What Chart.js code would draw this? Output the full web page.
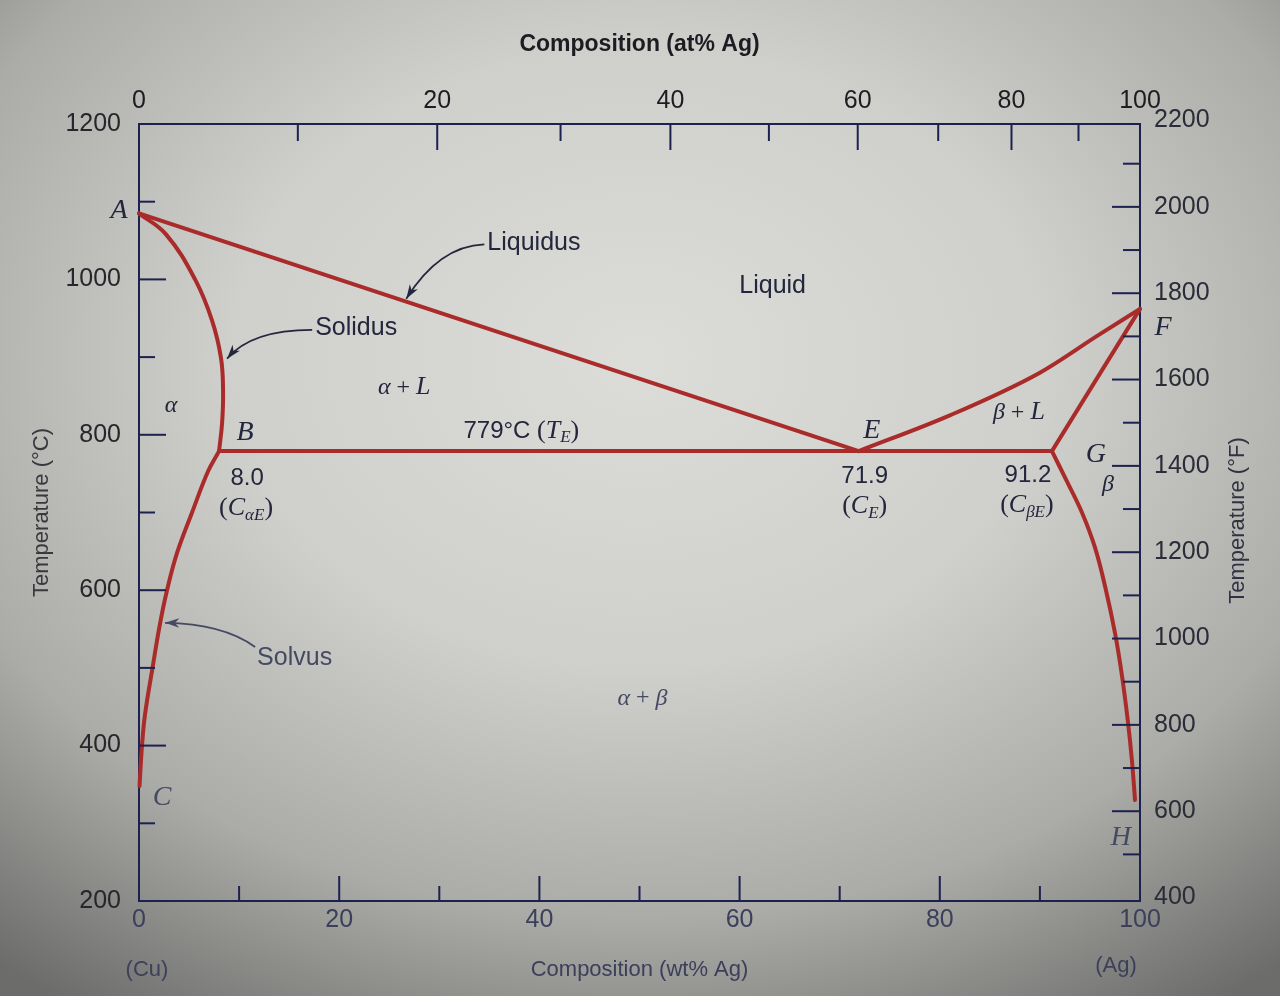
<!DOCTYPE html>
<html>
<head>
<meta charset="utf-8">
<title>Cu-Ag phase diagram</title>
<script src="https://cdn.jsdelivr.net/npm/chart.js@4.4.1/dist/chart.umd.min.js"></script>
<style>
    html, body { margin: 0; padding: 0; }
    body {
        width: 1280px;
        height: 996px;
        overflow: hidden;
        background: radial-gradient(ellipse 80% 78% at 50% 36%, #dcdcd8 0%, #cfcfcb 40%, #ababa7 72%, #6c6c6b 100%);
    }
    #wrap { position: relative; width: 1280px; height: 996px; }
</style>
</head>
<body>
<div id="wrap"><canvas id="phaseChart"></canvas></div>
<script>
// phase boundaries: [wt% Ag, temperature °C]
const liquidusCu = [[0, 1085], [71.9, 779]]
const solidusCu = [[0, 1085], [2.7, 1058], [5.6, 1000], [7.3, 947], [8.2, 898], [8.4, 855], [8.3, 815], [8.0, 779]]
const solvusCu = [[8.0, 779], [6.9, 753], [5.3, 700], [3.8, 648], [2.8, 600], [2.1, 557], [1.35, 500], [0.6, 440], [0.3, 400], [0.05, 348]]
const eutectic = [[8.0, 779], [71.9, 779], [91.2, 779]]
const liquidusAg = [[71.9, 779], [81, 825], [90, 880], [95.8, 928], [100, 962]]
const solidusAg = [[91.2, 779], [100, 962]]
const solvusAg = [[91.2, 779], [92.7, 740], [94.2, 700], [95.5, 655], [96.6, 600], [97.5, 545], [98.2, 490], [98.8, 430], [99.2, 380], [99.5, 330]]

// axis ticks
const wtTicks = [0, 10, 20, 30, 40, 50, 60, 70, 80, 90, 100]
const atTicks = [0, 10, 20, 30, 40, 50, 60, 70, 80, 90, 100]
const celsiusTicks = [200, 300, 400, 500, 600, 700, 800, 900, 1000, 1100, 1200]
const fahrenheitTicks = [400, 500, 600, 700, 800, 900, 1000, 1100, 1200, 1300, 1400, 1500, 1600, 1700, 1800, 1900, 2000, 2100, 2200]

const frameColor = '#1d2150'
const lineColor = '#a92c2b'
const ink = '#23263c'
const inkSoft = '#454a62'

// at% -> wt% (Cu 63.55, Ag 107.87)
const atToWt = (a) => 100 * a * 107.87 / (a * 107.87 + (100 - a) * 63.55)
const fToC = (f) => (f - 32) * 5 / 9

const sans = (size, weight) => `${weight || 'normal'} ${size}px "Liberation Sans", Arial, sans-serif`
const serif = (size) => `${size}px "Liberation Serif", "Times New Roman", serif`
const serifIt = (size) => `italic ${size}px "Liberation Serif", "Times New Roman", serif`

const boundary = (pairs, tension, mode) => ({
    data: pairs.map(p => ({x: p[0], y: p[1]})),
    showLine: true,
    borderColor: lineColor,
    borderWidth: 4,
    pointRadius: 0,
    tension: tension,
    cubicInterpolationMode: mode || 'default',
    clip: false,
    borderJoinStyle: 'round',
    borderCapStyle: 'round'
})

// labels inside the diagram, placed at [wt%, °C]
const it = (t, s) => ({text: t, font: serifIt(s || 28)})
const sub = (t) => ({text: t, font: serifIt(17), dy: 7})
const labels = [
    {at: [-2.0, 1088], runs: [it('A')]},
    {at: [10.6, 803], runs: [it('B')]},
    {at: [2.3, 333], runs: [it('C')], color: inkSoft},
    {at: [73.2, 805], runs: [it('E')]},
    {at: [102.3, 938], runs: [it('F')]},
    {at: [95.6, 775], runs: [it('G')]},
    {at: [98.1, 282], runs: [it('H')], color: inkSoft},
    {at: [3.2, 838], runs: [it('α', 24)]},
    {at: [96.8, 736], runs: [it('β', 24)]},
    {at: [26.5, 861], runs: [it('α', 24), {text: ' + ', font: serif(24)}, it('L', 26)]},
    {at: [87.9, 829], runs: [it('β', 24), {text: ' + ', font: serif(24)}, it('L', 26)]},
    {at: [50.3, 461], runs: [it('α', 24), {text: ' + ', font: serif(24)}, it('β', 24)], color: inkSoft},
    {at: [63.3, 992], runs: [{text: 'Liquid', font: sans(25)}]},
    {at: [38.2, 805], runs: [{text: '779°C ', font: sans(24)}, {text: '(', font: serif(26)}, it('T', 26), sub('E'), {text: ')', font: serif(26)}]},
    {at: [10.8, 744], runs: [{text: '8.0', font: sans(24)}]},
    {at: [10.7, 705], runs: [{text: '(', font: serif(26)}, it('C', 26), sub('α'), sub('E'), {text: ')', font: serif(26)}]},
    {at: [72.5, 746], runs: [{text: '71.9', font: sans(24)}]},
    {at: [72.5, 708], runs: [{text: '(', font: serif(26)}, it('C', 26), sub('E'), {text: ')', font: serif(26)}]},
    {at: [88.8, 748], runs: [{text: '91.2', font: sans(24)}]},
    {at: [88.7, 709], runs: [{text: '(', font: serif(26)}, it('C', 26), sub('β'), sub('E'), {text: ')', font: serif(26)}]}
]

// callouts: text left edge, arrow start, bend, tip
const callouts = [
    {text: 'Liquidus', at: [34.8, 1047], from: [34.5, 1045], bend: [30.0, 1043], tip: [26.7, 975]},
    {text: 'Solidus', at: [17.6, 937], from: [17.3, 935], bend: [11.2, 935], tip: [8.8, 898]},
    {text: 'Solvus', at: [11.8, 512], from: [11.6, 527], bend: [8.4, 557], tip: [2.6, 558], color: inkSoft}
]

const drawRuns = (ctx, cx, cy, runs) => {
    let w = 0
    runs.forEach(r => { ctx.font = r.font; w += ctx.measureText(r.text).width })
    let x = cx - w / 2
    runs.forEach(r => {
        ctx.font = r.font
        ctx.fillText(r.text, x, cy + (r.dy || 0))
        x += ctx.measureText(r.text).width
    })
}

const tickMark = (ctx, x1, y1, x2, y2) => {
    ctx.beginPath()
    ctx.moveTo(x1, y1)
    ctx.lineTo(x2, y2)
    ctx.stroke()
}

const inwardTicks = {
    id: 'inwardTicks',
    afterDraw(chart) {
        const ctx = chart.ctx
        const {left, right, top, bottom} = chart.chartArea
        const s = chart.scales
        ctx.save()
        ctx.strokeStyle = frameColor
        ctx.lineWidth = 2
        s.x.ticks.forEach(t => {
            if (t.value <= 0 || t.value >= 100) return
            const x = s.x.getPixelForValue(t.value)
            tickMark(ctx, x, bottom, x, bottom - (t.value % 20 === 0 ? 25 : 15))
        })
        s.xAt.ticks.forEach((t, i) => {
            const a = atTicks[i]
            if (a <= 0 || a >= 100) return
            const x = s.xAt.getPixelForValue(t.value)
            tickMark(ctx, x, top, x, top + (a % 20 === 0 ? 26 : 17))
        })
        s.y.ticks.forEach(t => {
            if (t.value <= 200 || t.value >= 1200) return
            const y = s.y.getPixelForValue(t.value)
            tickMark(ctx, left, y, left + (t.value % 200 === 0 ? 27 : 16), y)
        })
        s.yF.ticks.forEach((t, i) => {
            if (t.value <= 210 || t.value >= 1199) return
            const y = s.yF.getPixelForValue(t.value)
            tickMark(ctx, right, y, right - (fahrenheitTicks[i] % 200 === 0 ? 28 : 17), y)
        })
        ctx.restore()
    }
}

const diagramText = {
    id: 'diagramText',
    afterDraw(chart) {
        const ctx = chart.ctx
        const sx = chart.scales.x
        const sy = chart.scales.y
        const px = (p) => [sx.getPixelForValue(p[0]), sy.getPixelForValue(p[1])]
        ctx.save()
        ctx.textBaseline = 'middle'
        ctx.textAlign = 'left'

        labels.forEach(l => {
            const [x, y] = px(l.at)
            ctx.fillStyle = l.color || ink
            drawRuns(ctx, x, y, l.runs)
        })

        callouts.forEach(c => {
            const color = c.color || ink
            const [tx, ty] = px(c.at)
            ctx.fillStyle = color
            ctx.font = sans(25)
            ctx.fillText(c.text, tx, ty)

            const [x0, y0] = px(c.from)
            const [x1, y1] = px(c.bend)
            const [x2, y2] = px(c.tip)
            ctx.strokeStyle = color
            ctx.lineWidth = 1.8
            ctx.beginPath()
            ctx.moveTo(x0, y0)
            ctx.quadraticCurveTo(x1, y1, x2, y2)
            ctx.stroke()
            // arrow head
            const ang = Math.atan2(y2 - y1, x2 - x1)
            ctx.beginPath()
            ctx.moveTo(x2, y2)
            ctx.lineTo(x2 - 15 * Math.cos(ang - 0.32), y2 - 15 * Math.sin(ang - 0.32))
            ctx.lineTo(x2 - 10 * Math.cos(ang), y2 - 10 * Math.sin(ang))
            ctx.lineTo(x2 - 15 * Math.cos(ang + 0.32), y2 - 15 * Math.sin(ang + 0.32))
            ctx.closePath()
            ctx.fill()
        })

        // end-member names and the right axis title
        ctx.textAlign = 'center'
        ctx.fillStyle = '#3c4058'
        ctx.font = sans(22)
        ctx.fillText('(Cu)', sx.getPixelForValue(0) + 8, 970)
        ctx.fillText('(Ag)', sx.getPixelForValue(100) - 24, 966)

        ctx.translate(1238, chart.chartArea.top + chart.chartArea.height / 2 + 8)
        ctx.rotate(-Math.PI / 2)
        ctx.fillStyle = '#2f3242'
        ctx.fillText('Temperature (°F)', 0, 0)
        ctx.restore()
    }
}

const showChart = () => {
    const ctx = document.getElementById('phaseChart').getContext('2d')
    const tickFont = {family: '"Liberation Sans", Arial, sans-serif', size: 25}

    new Chart(ctx, {
        type: 'scatter',
        data: {
            datasets: [
                boundary(eutectic, 0),
                boundary(liquidusCu, 0),
                boundary(solidusCu, 0.4),
                boundary(solvusCu, 0.4),
                boundary(liquidusAg, 0, 'monotone'),
                boundary(solidusAg, 0),
                boundary(solvusAg, 0.4)
            ]
        },
        options: {
            responsive: true,
            maintainAspectRatio: false,
            animation: false,
            layout: {padding: 0},
            plugins: {
                legend: {display: false},
                tooltip: {enabled: false}
            },
            scales: {
                x: {
                    type: 'linear',
                    position: 'bottom',
                    min: 0,
                    max: 100,
                    afterBuildTicks: (scale) => { scale.ticks = wtTicks.map(v => ({value: v})) },
                    afterFit: (scale) => { scale.height = 95 },
                    grid: {display: false, drawTicks: false},
                    border: {display: true, color: frameColor, width: 2},
                    ticks: {
                        autoSkip: false,
                        maxRotation: 0,
                        padding: 4,
                        color: '#3b3f5a',
                        font: tickFont,
                        callback: (v) => v % 20 === 0 ? String(v) : ''
                    },
                    title: {
                        display: true,
                        text: 'Composition (wt% Ag)',
                        color: '#3b3f5a',
                        font: {family: '"Liberation Sans", Arial, sans-serif', size: 22},
                        padding: {top: 0, bottom: 13}
                    }
                },
                xAt: {
                    type: 'linear',
                    position: 'top',
                    min: 0,
                    max: 100,
                    afterBuildTicks: (scale) => { scale.ticks = atTicks.map(a => ({value: atToWt(a)})) },
                    afterFit: (scale) => { scale.height = 124 },
                    grid: {display: false, drawTicks: false},
                    border: {display: true, color: frameColor, width: 2},
                    ticks: {
                        autoSkip: false,
                        maxRotation: 0,
                        padding: 8,
                        color: '#1c1c22',
                        font: tickFont,
                        callback: (v, i) => atTicks[i] % 20 === 0 ? String(atTicks[i]) : ''
                    },
                    title: {
                        display: true,
                        text: 'Composition (at% Ag)',
                        color: '#1c1c22',
                        font: {family: '"Liberation Sans", Arial, sans-serif', size: 23, weight: 'bold'},
                        padding: {top: 31, bottom: 0}
                    }
                },
                y: {
                    type: 'linear',
                    position: 'left',
                    min: 200,
                    max: 1200,
                    afterBuildTicks: (scale) => { scale.ticks = celsiusTicks.map(v => ({value: v})) },
                    afterFit: (scale) => { scale.width = 139 },
                    grid: {display: false, drawTicks: false},
                    border: {display: true, color: frameColor, width: 2},
                    ticks: {
                        autoSkip: false,
                        padding: 18,
                        color: '#26262c',
                        font: tickFont,
                        callback: (v) => v % 200 === 0 ? String(v) : ''
                    },
                    title: {
                        display: true,
                        text: 'Temperature (°C)',
                        color: '#38383e',
                        font: {family: '"Liberation Sans", Arial, sans-serif', size: 22},
                        padding: {top: 29, bottom: 0}
                    }
                },
                yF: {
                    type: 'linear',
                    position: 'right',
                    min: 200,
                    max: 1200,
                    afterBuildTicks: (scale) => { scale.ticks = fahrenheitTicks.map(f => ({value: fToC(f)})) },
                    afterFit: (scale) => { scale.width = 140 },
                    grid: {display: false, drawTicks: false},
                    border: {display: true, color: frameColor, width: 2},
                    ticks: {
                        autoSkip: false,
                        padding: 14,
                        color: '#2a2c38',
                        font: tickFont,
                        callback: (v, i) => fahrenheitTicks[i] % 200 === 0 ? String(fahrenheitTicks[i]) : ''
                    }
                }
            }
        },
        plugins: [inwardTicks, diagramText]
    })
}

window.onload = function () {
    showChart()
}
</script>
</body>
</html>
